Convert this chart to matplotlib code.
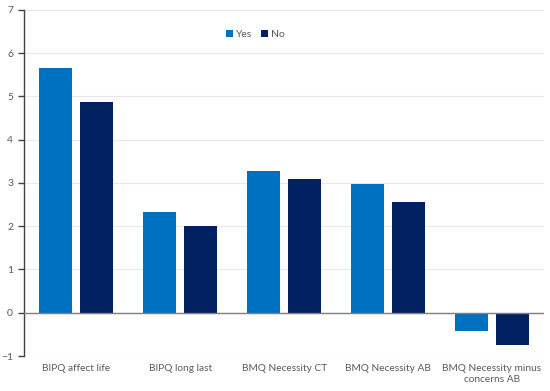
import numpy as np
import matplotlib.pyplot as plt

categories = ["BIPQ affect life", "BIPQ long last", "BMQ Necessity CT",
              "BMQ Necessity AB", "BMQ Necessity minus\nconcerns AB"]
yes_vals = [5.65, 2.33, 3.28, 2.98, -0.43]
no_vals = [4.88, 2.00, 3.10, 2.56, -0.75]

plt.rcParams['font.family'] = ['Lato', 'DejaVu Sans']
txt = '#595959'

fig = plt.figure(figsize=(5.5, 3.91), dpi=100)
ax = fig.add_axes([0.044, 0.0895, 0.945, 0.885])

x = np.arange(len(categories))
w = 0.317
off = 0.197
ax.bar(x - off, yes_vals, w, color='#0070C0', label='Yes', zorder=3)
ax.bar(x + off, no_vals, w, color='#002060', label='No', zorder=3)

ax.set_xlim(-0.5, len(categories) - 0.5)
ax.set_ylim(-1, 7)
ax.set_yticks(range(-1, 8))
ax.set_yticklabels(['\u22121'] + [str(i) for i in range(0, 8)])
ax.set_xticks(x)
ax.set_xticklabels(categories, fontsize=7.3, color=txt, linespacing=1.2)
ax.tick_params(axis='x', length=0, pad=6)
ax.tick_params(axis='y', labelsize=7.5, labelcolor=txt, length=4, width=1,
               color='#404040', pad=4)

ax.yaxis.grid(True, color='#E6E8F0', linewidth=0.8, zorder=0)
ax.axhline(0, color='#808080', linewidth=1, zorder=4)
for s in ['top', 'right', 'bottom']:
    ax.spines[s].set_visible(False)
ax.spines['left'].set_color('#404040')
ax.spines['left'].set_linewidth(1)

ax.legend(loc='upper left', bbox_to_anchor=(0.37, 0.97), ncol=2, frameon=False,
          fontsize=7.5, labelcolor=txt, handlelength=0.7, handleheight=0.7,
          handletextpad=0.3, columnspacing=0.8)

fig.savefig('out.png', dpi=100)
